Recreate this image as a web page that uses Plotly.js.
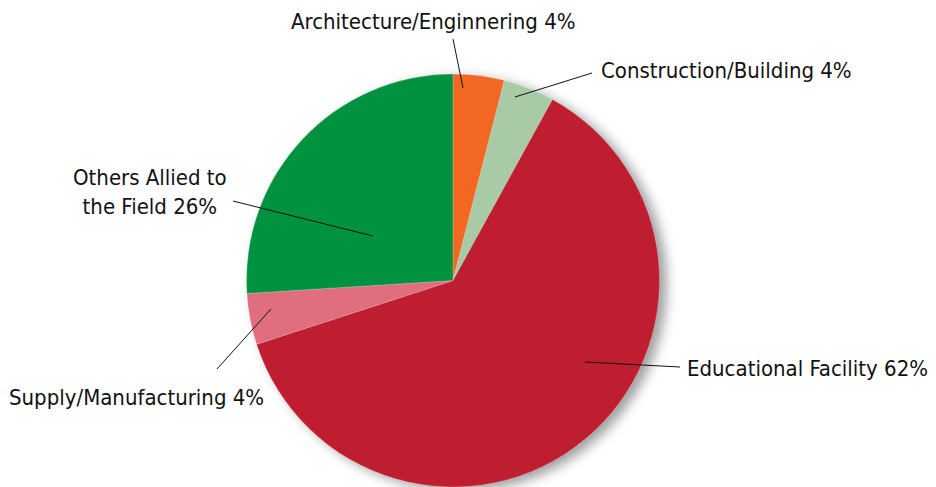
<!DOCTYPE html>
<html>
<head>
<meta charset="utf-8">
<script src="https://cdn.plot.ly/plotly-3.0.1.min.js"></script>
<style>
html,body{margin:0;padding:0;background:#fff;}
#chart{width:936px;height:487px;}
.pielayer .trace{filter: drop-shadow(7px 4px 6px rgba(0,0,0,0.38));}
</style>
</head>
<body>
<div id="chart"></div>
<script>
var categories = ["Architecture/Enginnering", "Construction/Building", "Educational Facility", "Supply/Manufacturing", "Others Allied to the Field"];
var values = [4, 4, 62, 4, 26];
var labelTexts = ["Architecture/Enginnering 4%", "Construction/Building 4%", "Educational Facility 62%", "Supply/Manufacturing 4%", "Others Allied to<br>the Field 26%"];
var colors = ["#F26722", "#A8CAA6", "#BE1E2F", "#E06E7F", "#00923F"];

var W = 936, H = 487;
function px(x){return x/W;}
function py(y){return 1 - y/H;}

// label placement (pixels): text anchor, line from label to inner point
var labelPos = [
  {tx:433, ty:21, xa:'center', lx1:453, ly1:39, lx2:463, ly2:88},
  {tx:599, ty:70, xa:'left', lx1:592, ly1:73, lx2:515, ly2:97},
  {tx:930, ty:368, xa:'right', lx1:680, ly1:367, lx2:585, ly2:362},
  {tx:7, ty:397, xa:'left', lx1:217, ly1:369, lx2:271, ly2:309},
  {tx:150, ty:192, xa:'center', lx1:233, ly1:201, lx2:373, ly2:236}
];

var annotations = [], shapes = [];
labelTexts.forEach(function(t, i){
  var p = labelPos[i];
  annotations.push({
    text: t, xref:'paper', yref:'paper', x: px(p.tx), y: py(p.ty),
    xanchor: p.xa, yanchor:'middle', align:'center', showarrow:false,
    font:{family:'"DejaVu Sans Condensed", "Liberation Sans Narrow", Arial, sans-serif', size:22, color:'#111'}
  });
  shapes.push({
    type:'line', xref:'paper', yref:'paper',
    x0: px(p.lx1), y0: py(p.ly1), x1: px(p.lx2), y1: py(p.ly2),
    line:{color:'#111', width:1}
  });
});

var trace = {
  type:'pie',
  labels: categories,
  values: values,
  sort:false,
  direction:'clockwise',
  rotation:0,
  textinfo:'none',
  hoverinfo:'label+percent',
  marker:{colors: colors, line:{color:'rgba(255,255,255,0.4)', width:0.5}},
  domain:{x:[px(246), px(660)], y:[0, py(74)]},
  showlegend:false
};

var layout = {
  width: W, height: H,
  margin:{l:0, r:0, t:0, b:0},
  paper_bgcolor:'#fff',
  plot_bgcolor:'#fff',
  showlegend:false,
  annotations: annotations,
  shapes: shapes
};

Plotly.newPlot('chart', [trace], layout, {displayModeBar:false, staticPlot:true});
</script>
</body>
</html>
